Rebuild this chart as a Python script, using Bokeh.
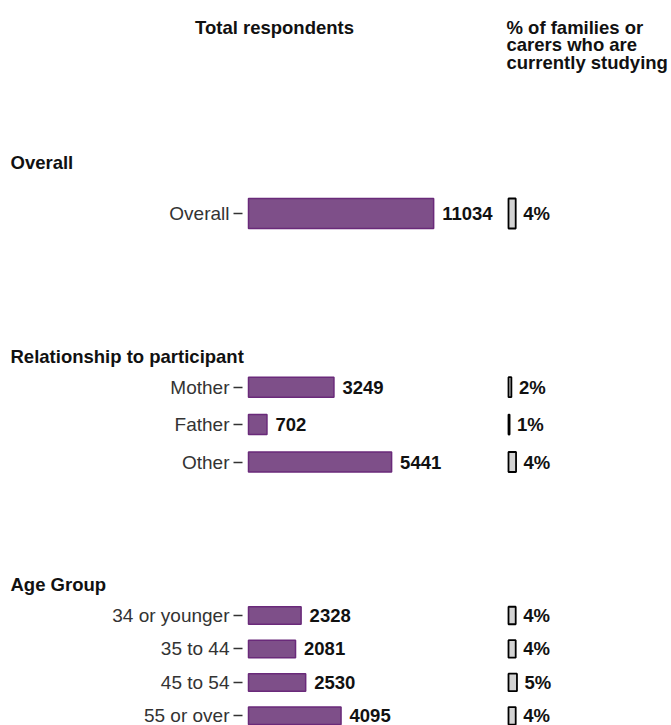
from bokeh.plotting import figure
from bokeh.models import Range1d, ColumnDataSource, Title, Label, FixedTicker
from bokeh.layouts import column
from bokeh.core.properties import value
from bokeh.embed import file_html
from bokeh.resources import INLINE

# ---------------- data ----------------
header_left = "Total respondents"
header_right = "% of families or\ncarers who are\ncurrently studying"

overall_title = "Overall"
overall_cats = ["Overall"]
overall_counts = [11034]
overall_pct = [4.0]

rel_title = "Relationship to participant"
rel_cats = ["Mother", "Father", "Other"]
rel_counts = [3249, 702, 5441]
rel_pct = [1.6, 0.6, 4.2]

age_title = "Age Group"
age_cats = ["34 or younger", "35 to 44", "45 to 54", "55 or over"]
age_counts = [2328, 2081, 2530, 4095]
age_pct = [4.0, 4.0, 4.7, 4.0]

# ---------------- styling / layout ----------------
FONT = "Liberation Sans"
W = 671
LEFT = 242
FRAME_W = W - LEFT
ZERO_PAD = 6
PCT_X0 = 266
PCT_PX = 1.8
TITLE_H = 38
PURPLE = "#7e4f89"
PURPLE_EDGE = "#6a2a7a"
BOLD_SIZE = "18.5px"
LABEL_SIZE = "19px"


def facet_fig(title, cats, counts, pcts, count_px, frame_h, row_px, top_pad, bar_px,
              bottom_gap):
    n = len(cats)
    idx = list(range(n))
    y_top = -top_pad / row_px
    p = figure(width=W, height=TITLE_H + frame_h + bottom_gap,
               y_range=Range1d(y_top + frame_h / row_px, y_top),
               x_range=Range1d(-ZERO_PAD / count_px, (FRAME_W - ZERO_PAD) / count_px),
               output_backend="svg", toolbar_location=None,
               min_border_left=LEFT, min_border_right=0,
               min_border_top=TITLE_H, min_border_bottom=bottom_gap)
    p.extra_x_ranges = {"pct": Range1d(-PCT_X0 / PCT_PX, (FRAME_W - PCT_X0) / PCT_PX)}
    src = ColumnDataSource(dict(
        idx=idx, count=counts, count_label=[str(c) for c in counts],
        pct=pcts, pct_label=[f"{round(v)}%" for v in pcts]))
    h = bar_px / row_px
    p.hbar(y="idx", left=0, right="count", height=h, source=src,
           fill_color=PURPLE, line_color=PURPLE_EDGE, line_width=1.5)
    p.text(x="count", y="idx", text="count_label", source=src, x_offset=8.5,
           text_align="left", text_baseline="middle", text_font=value(FONT),
           text_font_style="bold", text_font_size=BOLD_SIZE, text_color="#111111")
    p.hbar(y="idx", left=0, right="pct", height=h, source=src, x_range_name="pct",
           fill_color="#d3d3d3", line_color="black", line_width=1.8)
    p.text(x="pct", y="idx", text="pct_label", source=src, x_range_name="pct", x_offset=7.5,
           text_align="left", text_baseline="middle", text_font=value(FONT),
           text_font_style="bold", text_font_size=BOLD_SIZE, text_color="#111111")
    t = Title(text=title, align="left", offset=-(LEFT - 10), standoff=4,
              text_font=FONT, text_font_style="bold", text_font_size=BOLD_SIZE,
              text_color="#111111")
    p.add_layout(t, "above")
    p.title.visible = False
    p.xaxis.visible = False
    p.grid.visible = False
    p.outline_line_color = None
    ax = p.yaxis[0]
    ax.ticker = FixedTicker(ticks=idx)
    ax.major_label_overrides = {i: c for i, c in zip(idx, cats)}
    ax.minor_tick_line_color = None
    ax.axis_line_color = None
    ax.major_tick_out = 9
    ax.major_tick_in = 0
    ax.major_tick_line_color = "#333333"
    ax.major_tick_line_width = 1.5
    ax.major_label_standoff = 4
    ax.major_label_text_font = FONT
    ax.major_label_text_font_size = LABEL_SIZE
    ax.major_label_text_color = "#333333"
    return p


HDR_H = 136
hdr = figure(width=W, height=HDR_H, x_range=Range1d(0, W), y_range=Range1d(HDR_H, 0),
             output_backend="svg", toolbar_location=None,
             min_border_left=0, min_border_right=0, min_border_top=0, min_border_bottom=0)
hdr.axis.visible = False
hdr.grid.visible = False
hdr.outline_line_color = None
hdr.add_layout(Label(x=274, y=27, text=header_left, text_align="center",
                     text_baseline="middle",
                     text_font=FONT, text_font_style="bold", text_font_size=BOLD_SIZE,
                     text_color="#111111"))
hdr.add_layout(Label(x=LEFT + PCT_X0 - 2, y=16, text=header_right, text_align="left",
                     text_baseline="top", text_line_height=0.85,
                     text_font=FONT, text_font_style="bold", text_font_size=BOLD_SIZE,
                     text_color="#111111"))

f1 = facet_fig(overall_title, overall_cats, overall_counts, overall_pct, 0.01678,
               78, 78, 39, 30, 78)
f2 = facet_fig(rel_title, rel_cats, rel_counts, rel_pct, 0.0263,
               112, 37.4, 18.7, 20, 78)
f3 = facet_fig(age_title, age_cats, age_counts, age_pct, 0.0226,
               129, 33.45, 19, 17.5, 0)

layout = column(hdr, column(f1, f2, f3, spacing=0), spacing=0)
open("out.html", "w").write(file_html(layout, INLINE))
